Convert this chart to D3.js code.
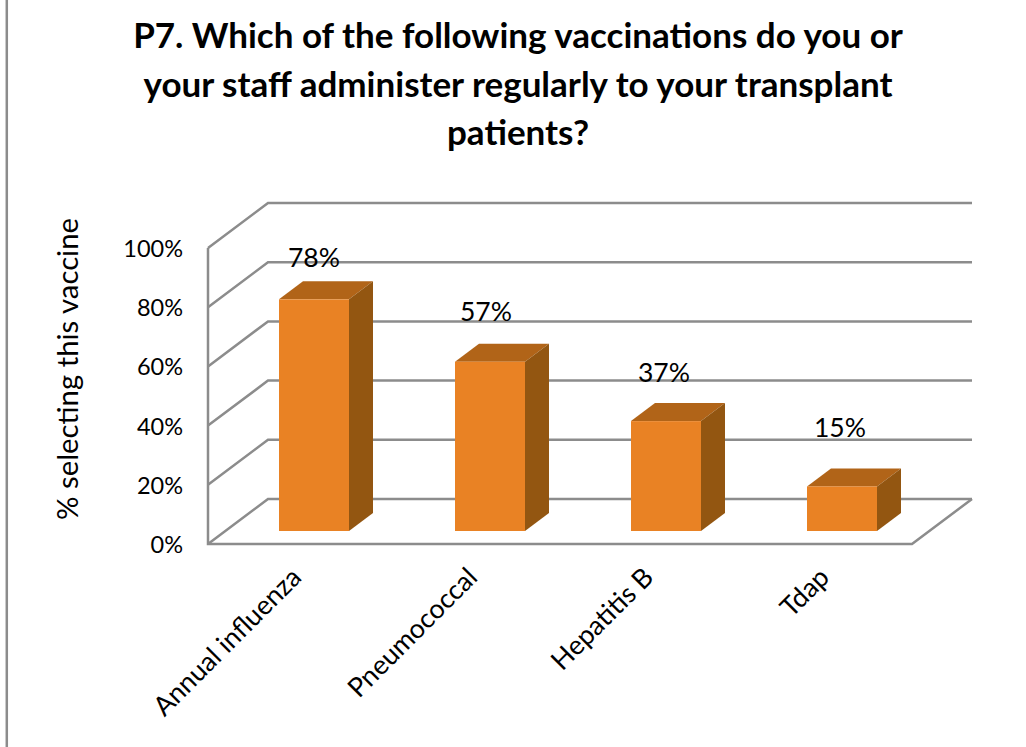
<!DOCTYPE html>
<html lang="en">
<head>
<meta charset="UTF-8" />
<title>P7 vaccinations</title>
<script src="https://d3js.org/d3.v7.min.js"></script>
<style>
    html, body { margin: 0; padding: 0; background: #fff; }
    svg { display: block; }
    text { font-family: Lato, "Open Sans", sans-serif; fill: #000; }
    .title { font-size: 35px; font-weight: bold; text-anchor: middle; }
    .axis text { font-size: 23.5px; }
    .axis path, .axis line { display: none; }
    .value-label { font-size: 26.5px; text-anchor: middle; }
    .grid { fill: none; stroke: #8c8c8c; stroke-width: 2.5; }
</style>
</head>
<body>
<svg id="chart" width="1026" height="747"></svg>
<script>
const categories = ["Annual influenza", "Pneumococcal", "Hepatitis B", "Tdap"];
const values = [78, 57, 37, 15];
const yTicks = [0, 20, 40, 60, 80, 100];
const titleLines = [
    "P7. Which of the following vaccinations do you or",
    "your staff administer regularly to your transplant",
    "patients?"
];
const yAxisTitle = "% selecting this vaccine";

const svg = d3.select("#chart");

// oblique offsets for the 3d look
const wallDx = 60, wallDy = -45;
const barDx = 24, barDy = -18;
const barW = 70;
const barBase = 531;
// labels are not evenly placed over the bars in the original
const labelGap = [32, 41, 39, 49];
const labelShift = [0, -4, -2, -2];

const y = d3.scaleLinear().domain([0, 100]).range([544, 248]);
const x = d3.scaleBand().domain(categories).range([208, 912]);
const barH = d3.scaleLinear().domain([0, 100]).range([0, 297]);
const barLeft = (c) => x(c) + 71;

// outer frame, left edge only shows in the crop
svg.append("line")
    .attr("x1", 6.8).attr("x2", 6.8)
    .attr("y1", 0).attr("y2", 747)
    .attr("stroke", "#8c8c8c")
    .attr("stroke-width", 2.5);

titleLines.forEach((t, i) => {
    svg.append("text")
        .attr("class", "title")
        .attr("x", 518)
        .attr("y", 48 + i * 48.5)
        .text(t);
});

// gridlines run up the side wall and across the back wall
svg.append("g").selectAll("path")
    .data(yTicks)
    .enter()
    .append("path")
    .attr("class", "grid")
    .attr("d", (d) => d3.line()([
        [208, y(d)],
        [208 + wallDx, y(d) + wallDy],
        [912 + wallDx, y(d) + wallDy]
    ]));

svg.append("path")
    .attr("class", "grid")
    .attr("d", d3.line()([
        [208, y(100)],
        [208, y(0)],
        [912, y(0)],
        [912 + wallDx, y(0) + wallDy]
    ]));

const yAxis = d3.axisLeft(y)
    .tickValues(yTicks)
    .tickFormat((d) => d + "%");
svg.append("g")
    .attr("class", "axis")
    .attr("transform", "translate(192,1)")
    .call(yAxis);

svg.append("text")
    .attr("transform", "translate(78,369) rotate(-90)")
    .attr("text-anchor", "middle")
    .style("font-size", "29.3px")
    .text(yAxisTitle);

const bars = svg.append("g").selectAll("g")
    .data(categories.map((c, i) => ({ c, v: values[i], i })))
    .enter()
    .append("g");

// top face
bars.append("path")
    .attr("fill", "#b16418")
    .attr("d", (d) => {
        const l = barLeft(d.c), t = barBase - barH(d.v);
        return d3.line()([
            [l, t], [l + barDx, t + barDy],
            [l + barW + barDx, t + barDy], [l + barW, t]
        ]) + "Z";
    });

// side face
bars.append("path")
    .attr("fill", "#935611")
    .attr("d", (d) => {
        const l = barLeft(d.c) + barW, t = barBase - barH(d.v);
        return d3.line()([
            [l, t], [l + barDx, t + barDy],
            [l + barDx, barBase + barDy], [l, barBase]
        ]) + "Z";
    });

// front face
bars.append("rect")
    .attr("fill", "#e98224")
    .attr("x", (d) => barLeft(d.c))
    .attr("y", (d) => barBase - barH(d.v))
    .attr("width", barW)
    .attr("height", (d) => barH(d.v));

bars.append("text")
    .attr("class", "value-label")
    .attr("x", (d) => barLeft(d.c) + 35 + labelShift[d.i])
    .attr("y", (d) => barBase - barH(d.v) - labelGap[d.i])
    .text((d) => d.v + "%");

// rotated category labels
svg.append("g").selectAll("text")
    .data(categories)
    .enter()
    .append("text")
    .attr("text-anchor", "end")
    .style("font-size", "26.8px")
    .attr("transform", (c) => `translate(${x(c) + 95},${579}) rotate(-45)`)
    .text((c) => c);
</script>
</body>
</html>
